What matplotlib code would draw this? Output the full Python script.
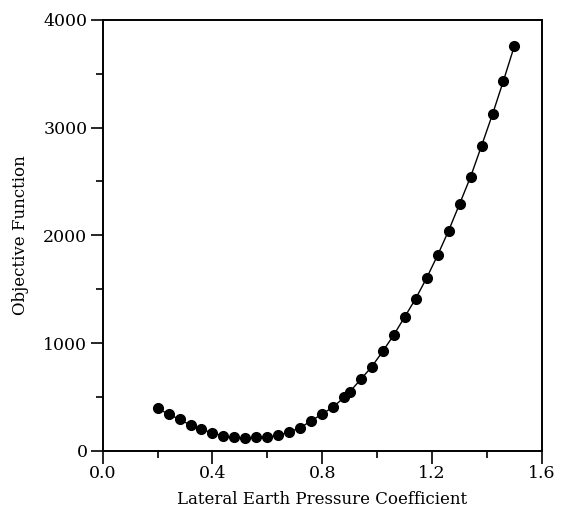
import matplotlib
matplotlib.use("Agg")
import matplotlib.pyplot as plt
from matplotlib.ticker import MultipleLocator, FixedLocator

k_values = [0.20, 0.24, 0.28, 0.32, 0.36, 0.40, 0.44, 0.48, 0.52, 0.56,
            0.60, 0.64, 0.68, 0.72, 0.76, 0.80, 0.84, 0.88,
            0.90, 0.94, 0.98, 1.02, 1.06, 1.10, 1.14, 1.18, 1.22, 1.26,
            1.30, 1.34, 1.38, 1.42, 1.46, 1.50]
objective = [394, 341, 292, 239, 199, 167, 136, 124, 118, 124,
             127, 143, 176, 214, 280, 341, 409, 496,
             548, 663, 780, 923, 1074, 1242, 1412, 1604, 1815, 2043,
             2291, 2542, 2831, 3124, 3436, 3761]

x_ticks = [0.0, 0.4, 0.8, 1.2, 1.6]
x_tick_labels = ["0.0", "0.4", "0.8", "1.2", "1.6"]
y_ticks = [0, 1000, 2000, 3000, 4000]
y_tick_labels = ["0", "1000", "2000", "3000", "4000"]

plt.rcParams['font.family'] = ['DejaVu Serif']

fig = plt.figure(figsize=(5.61, 5.23), dpi=100)
ax = fig.add_axes([0.183, 0.138, 0.783, 0.824])

ax.plot(k_values, objective, color='black', linewidth=1.0,
        marker='o', markersize=7, markerfacecolor='black',
        markeredgecolor='black')

ax.set_xlim(0, 1.6)
ax.set_ylim(0, 4000)
ax.xaxis.set_major_locator(FixedLocator(x_ticks))
ax.set_xticklabels(x_tick_labels)
ax.yaxis.set_major_locator(FixedLocator(y_ticks))
ax.set_yticklabels(y_tick_labels)
ax.xaxis.set_minor_locator(MultipleLocator(0.2))
ax.yaxis.set_minor_locator(MultipleLocator(500))

ax.tick_params(axis='both', which='major', direction='out', length=9,
               width=1.2, labelsize=12.5, color='black')
ax.tick_params(axis='both', which='minor', direction='out', length=5,
               width=1.2, color='black')
ax.tick_params(axis='x', pad=1)
ax.tick_params(axis='y', pad=2)

for s in ax.spines.values():
    s.set_linewidth(1.4)
    s.set_color('black')

ax.set_xlabel("Lateral Earth Pressure Coefficient", fontsize=12, labelpad=7)
ax.set_ylabel("Objective Function", fontsize=12, labelpad=10)

fig.savefig("out.png", dpi=100)
